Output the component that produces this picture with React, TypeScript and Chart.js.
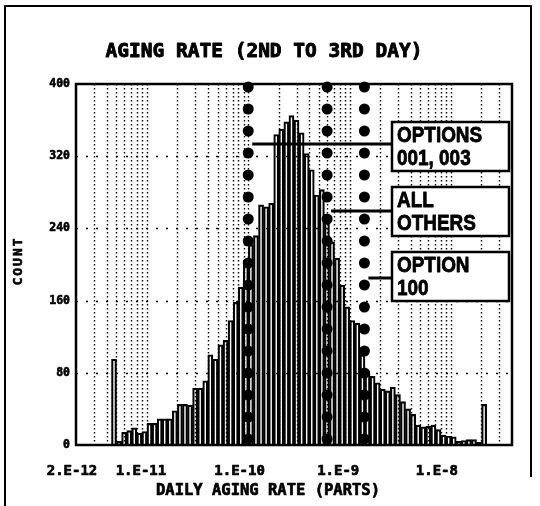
import React, { useEffect, useRef } from "react";
import { Chart, registerables } from "chart.js";

Chart.register(...registerables);

// ---- data ----
const X_MIN = 2e-12;
const X_MAX = 4e-8;
const BINS_PER_DECADE = 20;

// histogram counts, one per 1/20-decade bin starting at 2E-12
const COUNTS = [
  0, 0, 0, 0, 0, 0, 0, 95, 4, 14,
  16, 19, 13, 15, 24, 24, 29, 29, 29, 38,
  45, 45, 44, 63, 63, 71, 100, 95, 111, 116,
  138, 158, 175, 205, 222, 232, 266, 264, 268, 344,
  350, 358, 365, 360, 346, 323, 305, 277, 283, 249,
  225, 207, 177, 153, 138, 135, 100, 82, 76, 69,
  62, 60, 64, 56, 48, 40, 34, 22, 20, 21,
  22, 17, 11, 10, 9, 4, 5, 6, 6, 3,
  45, 0, 0, 0, 0, 0,
];

const Y_TICKS = [0, 80, 160, 240, 320, 400];
const X_TICKS = [2e-12, 1e-11, 1e-10, 1e-9, 1e-8];
const X_TICK_LABELS = ["2.E-12", "1.E-11", "1.E-10", "1.E-9", "1.E-8"];
const SPEC_LIMITS = [1e-10, 6e-10, 1.4e-9];
const SPEC_LABELS = [
  ["OPTIONS", "001, 003"],
  ["ALL", "OTHERS"],
  ["OPTION", "100"],
];
const TITLE = "AGING RATE (2ND TO 3RD DAY)";
const X_TITLE = "DAILY AGING RATE (PARTS)";
const Y_TITLE = "COUNT";

const BIN_LABELS = COUNTS.map((_, i) =>
  (X_MIN * Math.pow(10, i / BINS_PER_DECADE)).toExponential(2)
);

// ---- layout (pixels) ----
const BOX_LEFT = 392;
const BOX_RIGHT = 509;
const BOX_TOPS = [122, 187, 252];
const BOX_H = 49;
const LEADER_DY = [22, 24, 26];

const MONO = '"DejaVu Sans Mono", monospace';

function heavyText(ctx: any, t: string, x: number, y: number, w: number) {
  ctx.lineWidth = w;
  ctx.lineJoin = "round";
  ctx.strokeText(t, x, y);
  ctx.fillText(t, x, y);
}

const decor = {
  id: "decor",
  beforeDatasetsDraw(chart: any) {
    const ctx = chart.ctx;
    const xs = chart.scales.xLog;
    const ys = chart.scales.y;
    const { left, right, top, bottom } = chart.chartArea;
    ctx.save();
    ctx.strokeStyle = "#000";
    // vertical log grid
    ctx.lineWidth = 1.4;
    ctx.setLineDash([1.5, 2.5]);
    for (let e = -12; e <= -8; e++) {
      for (let k = 1; k <= 9; k++) {
        const v = k * Math.pow(10, e);
        if (v <= X_MIN * 1.001 || v >= X_MAX * 0.999) continue;
        const px = Math.round(xs.getPixelForValue(v)) + 0.5;
        ctx.beginPath();
        ctx.moveTo(px, top);
        ctx.lineTo(px, bottom);
        ctx.stroke();
      }
    }
    // horizontal grid
    ctx.setLineDash([2, 8]);
    for (const t of Y_TICKS) {
      if (t === 0 || t === 400) continue;
      const py = Math.round(ys.getPixelForValue(t)) + 0.5;
      ctx.beginPath();
      ctx.moveTo(left, py);
      ctx.lineTo(right, py);
      ctx.stroke();
    }
    ctx.restore();
  },
  afterDatasetsDraw(chart: any) {
    const ctx = chart.ctx;
    const xs = chart.scales.xLog;
    const ys = chart.scales.y;
    const { left, right, top, bottom } = chart.chartArea;
    ctx.save();
    ctx.fillStyle = "#000";
    ctx.strokeStyle = "#000";

    // big dotted spec lines
    for (const s of SPEC_LIMITS) {
      const px = xs.getPixelForValue(s);
      for (let y = top + 3; y <= bottom + 1; y += 22) {
        ctx.beginPath();
        ctx.arc(px, y, 5.5, 0, Math.PI * 2);
        ctx.fill();
      }
    }

    // plot frame
    ctx.lineWidth = 2.5;
    ctx.strokeRect(left, top, right - left, bottom - top);

    // label boxes and leaders
    SPEC_LABELS.forEach((lines, i) => {
      const bt = BOX_TOPS[i];
      const px = xs.getPixelForValue(SPEC_LIMITS[i]);
      ctx.lineWidth = 3;
      ctx.beginPath();
      ctx.moveTo(px + 4, bt + LEADER_DY[i]);
      ctx.lineTo(BOX_LEFT, bt + LEADER_DY[i]);
      ctx.stroke();
      ctx.fillStyle = "#fff";
      ctx.fillRect(BOX_LEFT, bt, BOX_RIGHT - BOX_LEFT, BOX_H);
      ctx.lineWidth = 2.5;
      ctx.strokeRect(BOX_LEFT, bt, BOX_RIGHT - BOX_LEFT, BOX_H);
      ctx.fillStyle = "#000";
      ctx.font = 'bold 22px "Liberation Sans", Arial, sans-serif';
      ctx.textAlign = "left";
      ctx.textBaseline = "alphabetic";
      lines.forEach((t, j) => {
        ctx.save();
        ctx.translate(BOX_LEFT + 5, bt + 20 + j * 23);
        ctx.scale(0.86, 1);
        heavyText(ctx, t, 0, 0, 0.8);
        ctx.restore();
      });
    });

    // y tick labels
    ctx.font = `bold 11.5px ${MONO}`;
    ctx.textAlign = "right";
    ctx.textBaseline = "middle";
    for (const t of Y_TICKS) {
      heavyText(ctx, String(t), left - 6, ys.getPixelForValue(t), 0.6);
    }

    // x tick labels
    ctx.font = `bold 14px ${MONO}`;
    ctx.textAlign = "center";
    ctx.textBaseline = "alphabetic";
    X_TICKS.forEach((v, i) => {
      const px = xs.getPixelForValue(v);
      const lx = left + (px - left) * 0.973 - 4;
      heavyText(ctx, X_TICK_LABELS[i], lx, 475, 0.7);
    });

    // axis titles
    ctx.font = `bold 15.5px ${MONO}`;
    heavyText(ctx, X_TITLE, 268, 495, 0.7);
    ctx.font = `bold 19.5px ${MONO}`;
    heavyText(ctx, TITLE, 264, 57, 0.9);

    ctx.save();
    ctx.translate(22, 261);
    ctx.rotate(-Math.PI / 2);
    ctx.font = `bold 13px ${MONO}`;
    (ctx as any).letterSpacing = "2px";
    ctx.textAlign = "center";
    heavyText(ctx, Y_TITLE, 0, 0, 0.6);
    ctx.restore();

    // outer frame
    ctx.lineWidth = 2;
    ctx.beginPath();
    ctx.moveTo(5, 506);
    ctx.lineTo(5, 6);
    ctx.lineTo(531, 6);
    ctx.lineTo(531, 477);
    ctx.stroke();

    ctx.restore();
  },
};

export default function App() {
  const ref = useRef<HTMLCanvasElement | null>(null);
  useEffect(() => {
    if (!ref.current) return;
    const chart = new Chart(ref.current, {
      type: "bar",
      data: {
        labels: BIN_LABELS,
        datasets: [
          {
            data: COUNTS,
            backgroundColor: "rgba(255,255,255,0)",
            borderColor: "#000",
            borderWidth: 1.5,
            barPercentage: 1,
            categoryPercentage: 1,
            borderSkipped: "bottom",
          },
        ],
      },
      options: {
        responsive: false,
        animation: false,
        devicePixelRatio: 1,
        layout: { padding: { left: 76, top: 84, right: 28, bottom: 61 } },
        plugins: {
          legend: { display: false },
          tooltip: { enabled: false },
          title: { display: false },
        },
        scales: {
          x: { type: "category", display: false, offset: true },
          xLog: {
            type: "logarithmic",
            display: false,
            min: X_MIN,
            max: X_MAX,
            bounds: "data",
            position: "bottom",
          },
          y: { type: "linear", display: false, min: 0, max: 400 },
        },
      } as any,
      plugins: [decor],
    });
    return () => chart.destroy();
  }, []);
  return (
    <div
      style={{
        position: "fixed",
        left: 0,
        top: 0,
        width: 540,
        height: 506,
        background: "#fff",
      }}
    >
      <canvas ref={ref} width={540} height={506} style={{ display: "block" }} />
    </div>
  );
}
